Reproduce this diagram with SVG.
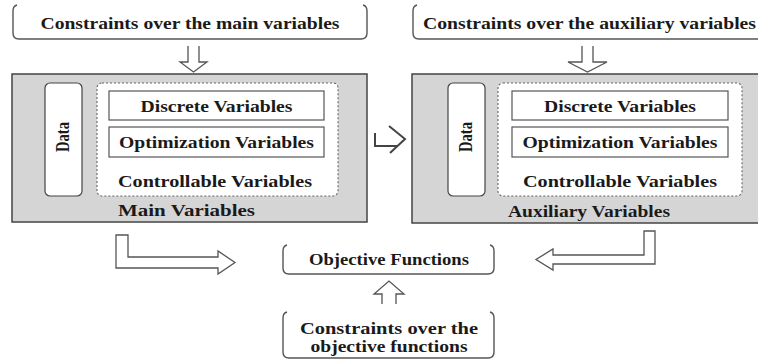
<svg xmlns="http://www.w3.org/2000/svg" width="758" height="361" viewBox="0 0 758 361">
<style>
.t{font-family:"Liberation Serif","Times New Roman",serif;font-weight:bold;font-size:16.5px;fill:#1a1a1a;text-anchor:middle}
.d{font-size:18px}
.br{fill:#fff;stroke:#555;stroke-width:1.4}
.grp{fill:#d5d5d5;stroke:#444;stroke-width:1.5}
.dat{fill:#fff;stroke:#444;stroke-width:1.2}
.dash{fill:#fff;stroke:#666;stroke-width:1.1;stroke-dasharray:2 2}
.vb{fill:#fff;stroke:#555;stroke-width:1.2}
.ar{fill:#fff;stroke:#555;stroke-width:1.3;stroke-linejoin:miter}
</style>
<rect width="758" height="361" fill="#fff"/>

<g id="c-main">
<path class="br" d="M17,5 Q13,6 13,11 V33 Q13,39 19,39 H361 Q367,39 367,33 V11 Q367,6 363,5"/>
<text class="t" x="190" y="29" textLength="299" lengthAdjust="spacingAndGlyphs">Constraints over the main variables</text>
</g>

<g id="c-aux">
<path class="br" d="M417,5 Q413,6 413,11 V33 Q413,39 419,39 H770"/>
<text class="t" x="589.5" y="29" textLength="333" lengthAdjust="spacingAndGlyphs">Constraints over the auxiliary variables</text>
</g>

<g id="main">
<rect class="grp" x="12" y="74" width="355" height="148"/>
<g id="main-data">
<rect class="dat" x="45" y="83" width="37" height="113" rx="5"/>
<text class="t d" transform="translate(69,137) rotate(-90)" x="0" y="0" textLength="30" lengthAdjust="spacingAndGlyphs">Data</text>
</g>
<g id="main-ctrl">
<rect class="dash" x="97" y="83" width="241" height="113" rx="5"/>
<text class="t" x="215" y="187" textLength="194" lengthAdjust="spacingAndGlyphs">Controllable Variables</text>
</g>
<g id="main-disc">
<rect class="vb" x="109" y="91" width="215" height="29"/>
<text class="t" x="216.5" y="112" textLength="152" lengthAdjust="spacingAndGlyphs">Discrete Variables</text>
</g>
<g id="main-opt">
<rect class="vb" x="109" y="127" width="215" height="30"/>
<text class="t" x="216.5" y="148" textLength="195" lengthAdjust="spacingAndGlyphs">Optimization Variables</text>
</g>
<text class="t" x="186.5" y="216" textLength="137" lengthAdjust="spacingAndGlyphs">Main Variables</text>
</g>

<g id="aux">
<rect class="grp" x="412" y="74" width="360" height="149"/>
<g id="aux-data">
<rect class="dat" x="448" y="83" width="37" height="113" rx="5"/>
<text class="t d" transform="translate(472,137) rotate(-90)" x="0" y="0" textLength="30" lengthAdjust="spacingAndGlyphs">Data</text>
</g>
<g id="aux-ctrl">
<rect class="dash" x="498" y="83" width="244" height="113" rx="5"/>
<text class="t" x="620" y="187" textLength="194" lengthAdjust="spacingAndGlyphs">Controllable Variables</text>
</g>
<g id="aux-disc">
<rect class="vb" x="512" y="91" width="216" height="29"/>
<text class="t" x="620" y="112" textLength="152" lengthAdjust="spacingAndGlyphs">Discrete Variables</text>
</g>
<g id="aux-opt">
<rect class="vb" x="512" y="127" width="216" height="30"/>
<text class="t" x="620" y="148" textLength="195" lengthAdjust="spacingAndGlyphs">Optimization Variables</text>
</g>
<text class="t" x="589" y="217" textLength="162" lengthAdjust="spacingAndGlyphs">Auxiliary Variables</text>
</g>

<g id="objective">
<path class="br" d="M287,245 Q283,246 283,251 V268 Q283,274 289,274 H488 Q494,274 494,268 V251 Q494,246 490,245"/>
<text class="t" x="389" y="265" textLength="160" lengthAdjust="spacingAndGlyphs">Objective Functions</text>
</g>

<g id="c-obj">
<path class="br" d="M287,312 Q283,313 283,318 V352 Q283,358 289,358 H488 Q494,358 494,352 V318 Q494,313 490,312"/>
<text class="t" x="389" y="334" textLength="178" lengthAdjust="spacingAndGlyphs">Constraints over the</text>
<text class="t" x="389" y="352" textLength="157" lengthAdjust="spacingAndGlyphs">objective functions</text>
</g>

<g id="connectors">
<path class="ar" d="M188,46 V62 H180 L193.5,72 L207,62 H199 V46"/>
<path class="ar" d="M582,46 V62 H568 L587.5,72 L607,62 H593 V46"/>
<path fill="none" stroke="#444" stroke-width="2" d="M375,133 V146 H397 M389,126 L405,139 L390,153"/>
<path class="ar" d="M116,235 H128 V257 H218 V251 L235,262.5 L218,274 V268 H116 Z"/>
<path class="ar" d="M655,231 H644 V255 H553 V249 L536,259.5 L553,270 V264 H655 Z"/>
<path class="ar" d="M382,304 V294 H374 L389,281 L404,294 H396 V304"/>
</g>
</svg>
